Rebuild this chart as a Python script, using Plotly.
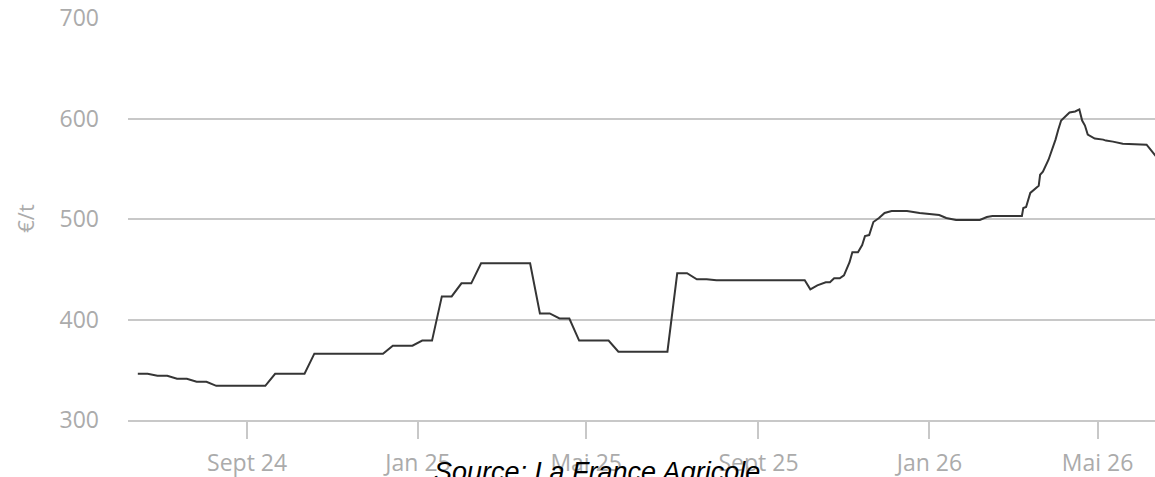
import plotly.graph_objects as go

# weekly prices, June 2024 -> early Oct 2025
weekly_dates = [
    "2024-06-15", "2024-06-22", "2024-06-29", "2024-07-06", "2024-07-13", "2024-07-20",
    "2024-07-27", "2024-08-03", "2024-08-10", "2024-08-17", "2024-08-24", "2024-08-31",
    "2024-09-07", "2024-09-14", "2024-09-21", "2024-09-28", "2024-10-05", "2024-10-12",
    "2024-10-19", "2024-10-26", "2024-11-02", "2024-11-09", "2024-11-16", "2024-11-23",
    "2024-11-30", "2024-12-07", "2024-12-14", "2024-12-21", "2024-12-28",
    "2025-01-04", "2025-01-11", "2025-01-18", "2025-01-25", "2025-02-01", "2025-02-08",
    "2025-02-15", "2025-02-22", "2025-03-01", "2025-03-08", "2025-03-15", "2025-03-22",
    "2025-03-29", "2025-04-05", "2025-04-12", "2025-04-19", "2025-04-26", "2025-05-03",
    "2025-05-10", "2025-05-17", "2025-05-24", "2025-05-31", "2025-06-07", "2025-06-14",
    "2025-06-21", "2025-06-28", "2025-07-05", "2025-07-12", "2025-07-19", "2025-07-26",
    "2025-08-02", "2025-08-09", "2025-08-16", "2025-08-23", "2025-08-30", "2025-09-06",
    "2025-09-13", "2025-09-20", "2025-09-27", "2025-10-04",
]
weekly_prices = [
    346, 346, 344, 344, 341, 341, 338, 338,
    334, 334, 334, 334, 334, 334,
    346, 346, 346, 346,
    366, 366, 366, 366, 366, 366, 366, 366,
    374, 374, 374, 379, 379, 423, 423, 436, 436,
    456, 456, 456, 456, 456, 456,
    406, 406, 401, 401, 379, 379, 379, 379,
    368, 368, 368, 368, 368, 368,
    446, 446, 440, 440,
    439, 439, 439, 439, 439, 439, 439, 439, 439, 439,
]

# denser quotes from Oct 2025 onwards
recent_dates = [
    "2025-10-08", "2025-10-13", "2025-10-19", "2025-10-22", "2025-10-25", "2025-10-29",
    "2025-11-01", "2025-11-05", "2025-11-07", "2025-11-11", "2025-11-14", "2025-11-16",
    "2025-11-19", "2025-11-22", "2025-11-26", "2025-11-30", "2025-12-05", "2025-12-16",
    "2025-12-25", "2026-01-04", "2026-01-08", "2026-01-13", "2026-01-20", "2026-02-06",
    "2026-02-11", "2026-02-15", "2026-03-08", "2026-03-09", "2026-03-11", "2026-03-14",
    "2026-03-17", "2026-03-20", "2026-03-21", "2026-03-23", "2026-03-27", "2026-03-30",
    "2026-04-01", "2026-04-03", "2026-04-05", "2026-04-08", "2026-04-11", "2026-04-15",
    "2026-04-18", "2026-04-20", "2026-04-22", "2026-04-24", "2026-04-29", "2026-05-05",
    "2026-05-07", "2026-05-12", "2026-05-19", "2026-06-05", "2026-06-08", "2026-06-13",
]
recent_prices = [
    430, 434, 437, 437, 441, 441,
    444, 457, 467, 467, 474, 483,
    484, 497, 501, 506, 508, 508,
    506, 505, 504, 501, 499, 499,
    502, 503, 503, 511, 512, 526,
    530, 533, 544, 547, 559, 570,
    579, 589, 598, 602, 606, 607,
    609, 598, 593, 584, 580, 579,
    578, 577, 575, 574, 569, 560,
]

tick_dates = ["2024-09-01", "2025-01-01", "2025-05-01", "2025-09-01", "2026-01-01", "2026-05-01"]
tick_labels = ["Sept 24", "Jan 25", "Mai 25", "Sept 25", "Jan 26", "Mai 26"]

GRID = "#c8c8c8"
LABEL = "#ababab"
FONT = "Open Sans"

fig = go.Figure()
fig.add_scatter(
    x=weekly_dates + recent_dates,
    y=weekly_prices + recent_prices,
    mode="lines",
    line=dict(color="#353535", width=2),
    hoverinfo="skip",
)

fig.update_layout(
    width=1155,
    height=477,
    margin=dict(l=128, r=0, t=17, b=57),
    plot_bgcolor="white",
    paper_bgcolor="white",
    showlegend=False,
    font=dict(family=FONT, size=23, color=LABEL),
)
fig.update_xaxes(
    type="date",
    range=["2024-06-08", "2026-06-11"],
    tickvals=tick_dates,
    ticktext=tick_labels,
    ticks="outside",
    ticklen=17,
    tickwidth=2,
    tickcolor=GRID,
    showgrid=False,
    showline=True,
    linecolor=GRID,
    linewidth=2,
    zeroline=False,
    automargin=False,
    ticklabelstandoff=4,
)
fig.update_yaxes(
    range=[300, 701],
    tickvals=[300, 400, 500, 600, 700],
    showgrid=True,
    gridcolor=GRID,
    gridwidth=2,
    zeroline=False,
    showline=False,
    automargin=False,
    ticklabelstandoff=28,
    title=dict(text="€/t", standoff=18, font=dict(size=22, color=LABEL)),
)

fig.add_annotation(
    text="<i>Source: La France Agricole</i>",
    xref="paper", yref="paper",
    x=0.457, y=-0.129,
    xanchor="center", yanchor="middle",
    showarrow=False,
    font=dict(family="Liberation Sans", size=27, color="black"),
)

# drop the default page margin so the figure sits at the window's corner
fig.write_html(
    "out.html",
    config={"displayModeBar": False},
    post_script="document.body.style.margin = '0';",
)
